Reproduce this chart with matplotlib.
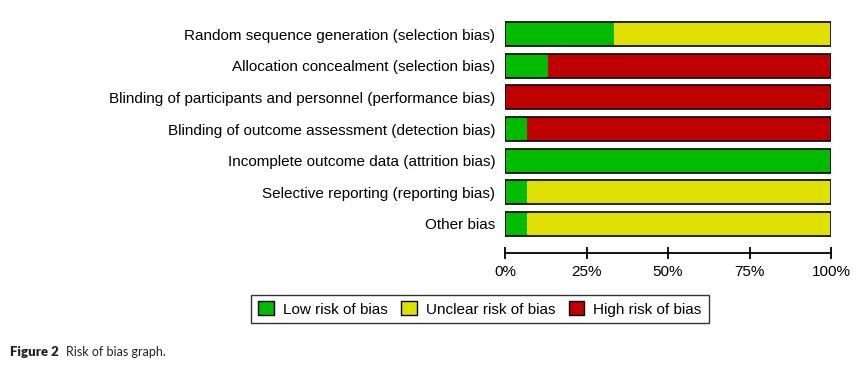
import matplotlib
matplotlib.use("Agg")
import matplotlib.pyplot as plt
from matplotlib.patches import Patch
import numpy as np

categories = [
    "Random sequence generation (selection bias)",
    "Allocation concealment (selection bias)",
    "Blinding of participants and personnel (performance bias)",
    "Blinding of outcome assessment (detection bias)",
    "Incomplete outcome data (attrition bias)",
    "Selective reporting (reporting bias)",
    "Other bias",
]
low = [33.3, 13.3, 0.0, 6.7, 100.0, 6.7, 6.7]
unclear = [66.7, 0.0, 0.0, 0.0, 0.0, 93.3, 93.3]
high = [0.0, 86.7, 100.0, 93.3, 0.0, 0.0, 0.0]
series_names = ["Low risk of bias", "Unclear risk of bias", "High risk of bias"]
colors = ["#00BB00", "#E0E000", "#C00000"]
xticks = [0, 25, 50, 75, 100]
xticklabels = ["0%", "25%", "50%", "75%", "100%"]

plt.rcParams['font.family'] = ['Liberation Sans', 'DejaVu Sans']

fig = plt.figure(figsize=(8.6, 3.7), dpi=100)
ax = fig.add_axes([505/860, (370-253)/370, 326/860, (253-18.2)/370])

y = np.arange(len(categories))
left = np.zeros(len(categories))
for vals, c in zip([low, unclear, high], colors):
    vals = np.array(vals)
    ax.barh(y, vals, left=left, height=0.76, color=c, edgecolor='none')
    left += vals
# outline of whole bars
ax.barh(y, left, height=0.76, color='none', edgecolor='black', linewidth=1.2)

ax.set_xlim(0, 100)
ax.set_ylim(len(categories) - 1 + 0.916, -0.5)
ax.set_yticks(y)
ax.set_yticklabels(categories, fontsize=11)
ax.tick_params(axis='y', length=0, pad=7)
ax.set_xticks(xticks)
ax.set_xticklabels(xticklabels, fontsize=11)
ax.tick_params(axis='x', direction='inout', length=9, width=1.3, pad=4)
for s in ['top', 'right', 'left']:
    ax.spines[s].set_visible(False)
ax.spines['bottom'].set_linewidth(1.3)

handles = [Patch(facecolor=c, edgecolor='black', label=n) for c, n in zip(colors, series_names)]
leg = fig.legend(handles=handles, loc='center', bbox_to_anchor=(480/860, 1-309/370), ncol=3,
                 fontsize=11, frameon=True, fancybox=False, edgecolor='black',
                 handlelength=1.0, handleheight=1.0, columnspacing=0.9, handletextpad=0.6,
                 borderpad=0.45)
leg.get_frame().set_linewidth(1.0)

fig.text(10/860, 1-352/370, "Figure 2", fontsize=9.5, fontweight='heavy', family=['Lato', 'DejaVu Sans'], va='center', color='#222222')
fig.text(66/860, 1-352/370, "Risk of bias graph.", fontsize=9, family=['Lato', 'DejaVu Sans'], va='center', color='#222222')

fig.savefig("out.png", dpi=100)
